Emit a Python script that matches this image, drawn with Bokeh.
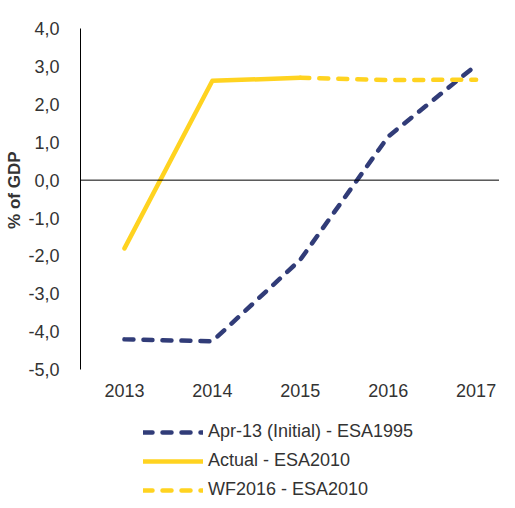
from bokeh.plotting import figure
from bokeh.models import Range1d, Span, Legend, LegendItem, CustomJSTickFormatter, FixedTicker, Title
from bokeh.core.properties import value
from bokeh.embed import file_html
from bokeh.resources import INLINE

years = [2013, 2014, 2015, 2016, 2017]
year_labels = ["2013", "2014", "2015", "2016", "2017"]
apr13 = [-4.2, -4.25, -2.1, 1.15, 3.03]
actual_years = [2013, 2014, 2015]
actual = [-1.8, 2.62, 2.7]
wf_years = [2015, 2016, 2017]
wf2016 = [2.7, 2.64, 2.65]
y_ticks = [-5, -4, -3, -2, -1, 0, 1, 2, 3, 4]

NAVY = "#313C78"
YELLOW = "#FFD320"
FONT = "Liberation Sans"
TXT = "#333333"

p = figure(width=499, height=500, output_backend="svg", toolbar_location=None,
           x_range=Range1d(2012.5, 2017.266), y_range=Range1d(-8.45, 4),
           x_axis_location=None,
           min_border_left=69, min_border_top=28, min_border_bottom=0, min_border_right=0)
p.outline_line_color = None
p.xgrid.visible = False
p.ygrid.visible = False

p.add_layout(Span(location=0, dimension="width", line_color="black", line_width=1))

r_apr = p.line(years, apr13, line_color=NAVY, line_width=4.5, line_dash="9 10", line_cap="round")
r_act = p.line(actual_years, actual, line_color=YELLOW, line_width=4.5, line_cap="round", line_join="round")
r_wf = p.line(wf_years, wf2016, line_color=YELLOW, line_width=4.5, line_dash="9 10", line_cap="round")

# category labels under the value scale
p.text(x=years, y=[y_ticks[0]] * len(years), text=year_labels, y_offset=21,
       text_align="center", text_baseline="middle", text_font=value(FONT),
       text_font_size="18px", text_color=TXT)

# y axis
ya = p.yaxis[0]
ya.ticker = FixedTicker(ticks=y_ticks)
ya.bounds = (y_ticks[0], y_ticks[-1])
ya.formatter = CustomJSTickFormatter(code="return tick.toFixed(1).replace('.', ',')")
ya.major_tick_line_color = None
ya.minor_tick_line_color = None
ya.axis_line_color = "black"
ya.major_label_standoff = 15
ya.major_label_text_font = FONT
ya.major_label_text_font_size = "18px"
ya.major_label_text_color = TXT

# y axis title, placed beside the value scale
p.add_layout(Title(text="% of GDP", align="right", offset=123, standoff=4,
                   vertical_align="bottom", text_font=FONT, text_font_size="17px",
                   text_font_style="bold", text_color=TXT), "left")

legend = Legend(items=[
    LegendItem(label="Apr-13 (Initial) - ESA1995", renderers=[r_apr]),
    LegendItem(label="Actual - ESA2010", renderers=[r_act]),
    LegendItem(label="WF2016 - ESA2010", renderers=[r_wf]),
], location=(63, 0), orientation="vertical",
    glyph_width=60, glyph_height=18, label_height=18, label_standoff=5, spacing=8,
    padding=0, margin=0, border_line_color=None, background_fill_alpha=0,
    label_text_font=FONT, label_text_font_size="18px", label_text_color=TXT)
p.add_layout(legend, "center")

open("out.html", "w").write(file_html(p, INLINE))
